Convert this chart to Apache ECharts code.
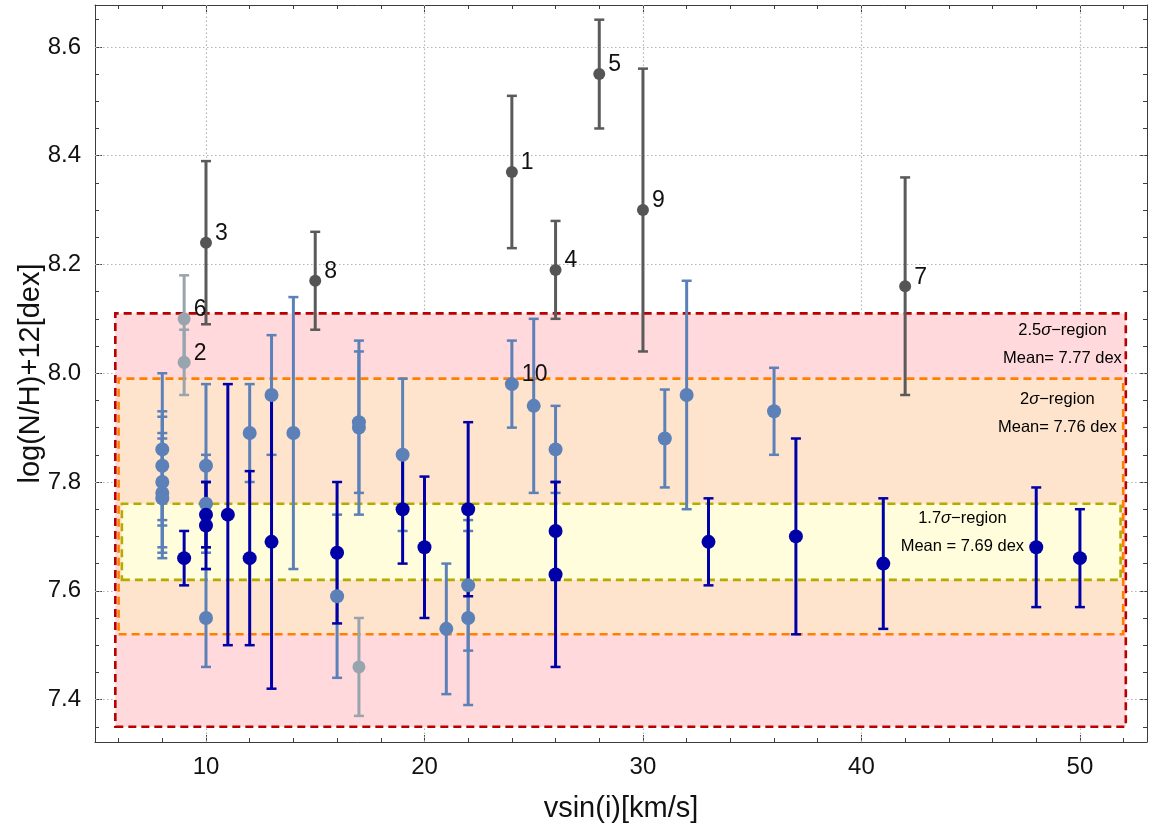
<!DOCTYPE html>
<html>
<head>
<meta charset="utf-8">
<script src="https://cdn.jsdelivr.net/npm/echarts@6/dist/echarts.min.js"></script>
<style>
  html, body { margin: 0; padding: 0; background: #fff; }
  #chart { width: 1151px; height: 829px; }
</style>
</head>
<body>
<div id="chart"></div>
<script>
// Nitrogen abundance log(N/H)+12 [dex] against projected rotation vsin(i) [km/s].
// Each star: x, value, symmetric uncertainty.

// Numbered outliers (dark grey)
const taggedX   = [10, 15, 24, 26, 28, 30, 42];
const taggedY   = [8.24, 8.17, 8.37, 8.19, 8.55, 8.30, 8.16];
const taggedErr = [0.15, 0.09, 0.14, 0.09, 0.10, 0.26, 0.20];
const taggedTag = ['3', '8', '1', '4', '5', '9', '7'];

// Pale grey stars
const paleX   = [9, 9, 17];
const paleY   = [8.10, 8.02, 7.46];
const paleErr = [0.08, 0.06, 0.09];
const paleTag = ['6', '2', ''];

// Steel-blue stars
const steelX   = [8, 8, 8, 8, 8, 10, 10, 10, 12, 13, 14, 16, 17, 17, 19, 21, 22, 22, 24, 25, 26, 31, 32, 36];
const steelY   = [7.86, 7.83, 7.80, 7.78, 7.77, 7.83, 7.76, 7.55, 7.89, 7.96, 7.89, 7.59, 7.91, 7.90, 7.85, 7.53, 7.61, 7.55, 7.98, 7.94, 7.86, 7.88, 7.96, 7.93];
const steelErr = [0.14, 0.10, 0.12, 0.11, 0.11, 0.15, 0.09, 0.09, 0.09, 0.11, 0.25, 0.15, 0.13, 0.16, 0.14, 0.12, 0.12, 0.16, 0.08, 0.16, 0.08, 0.09, 0.21, 0.08];
const steelTag = ['', '', '', '', '', '', '', '', '', '', '', '', '', '', '', '', '', '', '10', '', '', '', '', ''];

// Dark-blue stars
const navyX   = [9, 10, 10, 11, 12, 13, 16, 19, 20, 22, 26, 26, 33, 37, 41, 48, 50];
const navyY   = [7.66, 7.74, 7.72, 7.74, 7.66, 7.69, 7.67, 7.75, 7.68, 7.75, 7.71, 7.63, 7.69, 7.70, 7.65, 7.68, 7.66];
const navyErr = [0.05, 0.06, 0.08, 0.24, 0.16, 0.27, 0.13, 0.10, 0.13, 0.16, 0.09, 0.17, 0.08, 0.18, 0.12, 0.11, 0.09];

// Confidence bands
const bandTitle = ['2.5σ', '2σ', '1.7σ'];
const bandMean  = ['Mean= 7.77 dex', 'Mean= 7.76 dex', 'Mean = 7.69 dex'];
const bandX0 = [5.85, 6.0, 6.15];
const bandX1 = [52.1, 51.98, 51.86];
const bandY0 = [7.35, 7.52, 7.62];
const bandY1 = [8.11, 7.99, 7.76];

// Axes
const xRange = [4.92, 53.07];
const yRange = [7.322, 8.677];
const xTicks = [10, 20, 30, 40, 50];
const yTicks = [7.4, 7.6, 7.8, 8.0, 8.2, 8.4, 8.6];

const xMinor = [];
for (let v = 6; v <= 52; v += 2) if (v % 10 !== 0) xMinor.push(v);
const yMinor = [];
for (let k = 147; k <= 173; k++) if (k % 4 !== 0) yMinor.push(+(k * 0.05).toFixed(2));

// ---------------------------------------------------------------
const FONT = 'Liberation Sans, Arial, Helvetica, sans-serif';
const FRAME = '#3c3c3c';

const styles = {
  tagged: { color: '#555555', bar: '#5a5a5a', size: 12 },
  pale:   { color: '#98a4ae', bar: '#98a4ae', size: 13 },
  steel:  { color: '#5c80b8', bar: '#5c80b8', size: 14 },
  navy:   { color: '#0000a8', bar: '#0000a8', size: 14 }
};

function rows(xs, ys, es) {
  return xs.map((x, i) => [x, ys[i], +(ys[i] - es[i]).toFixed(3), +(ys[i] + es[i]).toFixed(3)]);
}

function errorBars(name, data, color) {
  return {
    name: name + ' error',
    type: 'custom',
    z: 3,
    silent: true,
    data: data,
    encode: { x: 0, y: [2, 3] },
    renderItem: function (params, api) {
      const x = api.value(0);
      const top = api.coord([x, api.value(3)]);
      const bot = api.coord([x, api.value(2)]);
      const cap = 5;
      return {
        type: 'group',
        children: [
          { type: 'line', shape: { x1: top[0], y1: top[1], x2: bot[0], y2: bot[1] },
            style: { stroke: color, lineWidth: 3 } },
          { type: 'line', shape: { x1: top[0] - cap, y1: top[1], x2: top[0] + cap, y2: top[1] },
            style: { stroke: color, lineWidth: 2.5 } },
          { type: 'line', shape: { x1: bot[0] - cap, y1: bot[1], x2: bot[0] + cap, y2: bot[1] },
            style: { stroke: color, lineWidth: 2.5 } }
        ]
      };
    }
  };
}

function points(name, xs, ys, st, tags) {
  return {
    name: name,
    type: 'scatter',
    z: 3,
    silent: true,
    symbol: 'circle',
    symbolSize: st.size,
    itemStyle: { color: st.color, opacity: 1 },
    data: xs.map((x, i) => [x, ys[i]]),
    label: {
      show: !!tags,
      position: 'right',
      distance: 3,
      offset: [0, -9],
      fontFamily: FONT,
      fontSize: 23,
      color: '#111',
      formatter: p => (tags ? tags[p.dataIndex] : '')
    }
  };
}

const bandFill   = ['#ffd9db', '#ffe4cd', '#fffddb'];
const bandBorder = ['#b80000', '#ff8000', '#b2ac00'];

const bandAreas = bandTitle.map((t, i) => [
  { xAxis: bandX0[i], yAxis: bandY0[i],
    itemStyle: { color: bandFill[i], borderColor: bandBorder[i], borderWidth: 2.6, borderType: [8, 5] } },
  { xAxis: bandX1[i], yAxis: bandY1[i] }
]);

// text anchors inside each band (data units)
const bandTextX = [49.2, 48.97, 44.62];
const bandTitleY = [8.078, 7.952, 7.733];
const bandMeanY = [8.028, 7.901, 7.682];

const bandText = [];
bandTitle.forEach((t, i) => {
  bandText.push({ value: [bandTextX[i], bandTitleY[i]], text: t.replace('σ', '{i|σ}') + '\u2212region' });
  bandText.push({ value: [bandTextX[i], bandMeanY[i]], text: bandMean[i] });
});

function xAxisDef(pos, ticks, len, main) {
  return {
    type: 'value', position: pos, min: xRange[0], max: xRange[1],
    axisLine: { show: main, onZero: false, lineStyle: { color: FRAME, width: 1 } },
    axisTick: { show: true, inside: true, length: len, customValues: ticks, lineStyle: { color: FRAME, width: 1 } },
    axisLabel: main && pos === 'bottom'
      ? { show: true, customValues: xTicks, fontFamily: FONT, fontSize: 24, color: '#111', margin: 13, formatter: v => String(v) }
      : { show: false },
    splitLine: { show: false },
    name: main && pos === 'bottom' ? 'vsin(i)[km/s]' : '',
    nameLocation: 'middle', nameGap: 52, nameMoveOverlap: false,
    nameTextStyle: { fontFamily: FONT, fontSize: 29, color: '#111' }
  };
}
function yAxisDef(pos, ticks, len, main) {
  return {
    type: 'value', position: pos, min: yRange[0], max: yRange[1],
    axisLine: { show: main, onZero: false, lineStyle: { color: FRAME, width: 1 } },
    axisTick: { show: true, inside: true, length: len, customValues: ticks, lineStyle: { color: FRAME, width: 1 } },
    axisLabel: main && pos === 'left'
      ? { show: true, customValues: yTicks, fontFamily: FONT, fontSize: 24, color: '#111', margin: 14, formatter: v => v.toFixed(1) }
      : { show: false },
    splitLine: { show: false },
    name: main && pos === 'left' ? 'log(N/H)+12[dex]' : '',
    nameLocation: 'middle', nameGap: 50, nameMoveOverlap: false,
    nameTextStyle: { fontFamily: FONT, fontSize: 29, color: '#111' }
  };
}

const chart = echarts.init(document.getElementById('chart'), null, { renderer: 'canvas' });

chart.setOption({
  animation: false,
  backgroundColor: '#ffffff',
  textStyle: { fontFamily: FONT },
  grid: { left: 95, right: 4, top: 5, bottom: 87, containLabel: false },
  xAxis: [
    xAxisDef('bottom', xTicks, 7, true),
    xAxisDef('top', xTicks, 7, true),
    xAxisDef('bottom', xMinor, 4, false),
    xAxisDef('top', xMinor, 4, false)
  ],
  yAxis: [
    yAxisDef('left', yTicks, 7, true),
    yAxisDef('right', yTicks, 7, true),
    yAxisDef('left', yMinor, 4, false),
    yAxisDef('right', yMinor, 4, false)
  ],
  series: [
    {
      name: 'grid lines', type: 'scatter', data: [], z: 1, silent: true,
      markLine: {
        z: 1, silent: true, symbol: 'none', animation: false,
        label: { show: false },
        lineStyle: { color: '#b4b4b4', width: 1.2, type: [1.5, 2.5] },
        data: xTicks.map(v => ({ xAxis: v })).concat(yTicks.map(v => ({ yAxis: v })))
      }
    },
    {
      name: 'bands', type: 'scatter', data: [], z: 2, silent: true,
      markArea: { z: 2, silent: true, animation: false, label: { show: false }, data: bandAreas }
    },
    {
      name: 'band text', type: 'scatter', z: 2, silent: true,
      symbolSize: 0,
      itemStyle: { opacity: 1 },
      data: bandText.map(d => ({ value: d.value, text: d.text })),
      label: {
        show: true, position: 'inside', fontFamily: FONT, fontSize: 16.5, color: '#000',
        textBorderWidth: 0, opacity: 1,
        formatter: p => p.data.text,
        rich: { i: { fontFamily: FONT, fontStyle: 'italic', fontSize: 16.5, color: '#000' } }
      }
    },
    errorBars('pale', rows(paleX, paleY, paleErr), styles.pale.bar),
    points('pale', paleX, paleY, styles.pale, paleTag),
    errorBars('tagged', rows(taggedX, taggedY, taggedErr), styles.tagged.bar),
    points('tagged', taggedX, taggedY, styles.tagged, taggedTag),
    errorBars('steel', rows(steelX, steelY, steelErr), styles.steel.bar),
    points('steel', steelX, steelY, styles.steel, steelTag),
    errorBars('navy', rows(navyX, navyY, navyErr), styles.navy.bar),
    points('navy', navyX, navyY, styles.navy, null)
  ]
});
</script>
</body>
</html>
